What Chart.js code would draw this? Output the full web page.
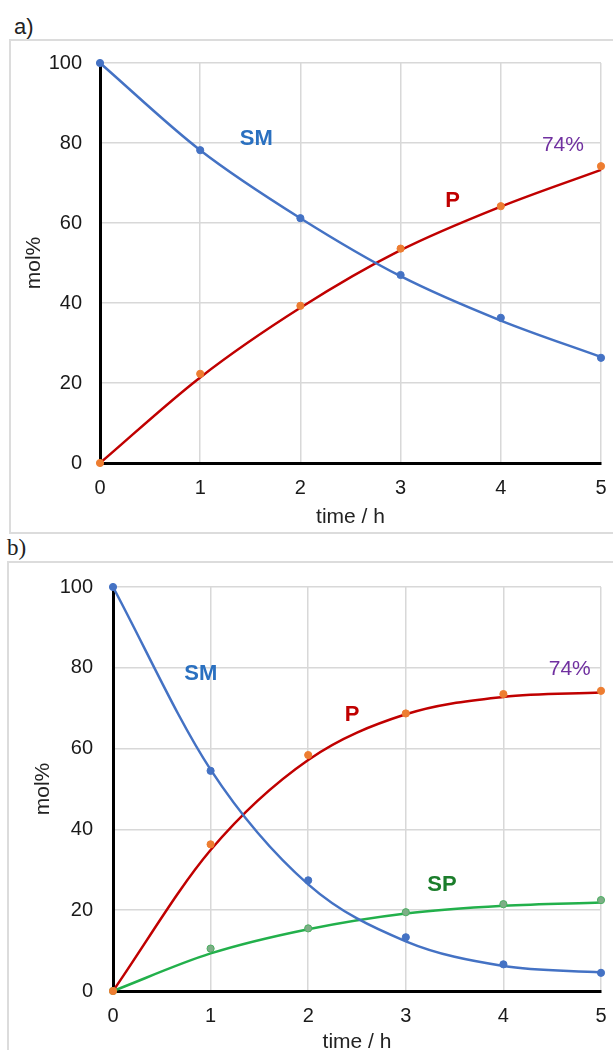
<!DOCTYPE html>
<html><head><meta charset="utf-8">
<script src="https://cdn.jsdelivr.net/npm/chart.js@4"></script>
<style>
html,body{margin:0;padding:0;background:#fff;width:613px;height:1050px;overflow:hidden;position:relative;font-family:"Liberation Sans",Arial,sans-serif;}
.frame{position:absolute;border:2px solid #dcdcdc;box-sizing:border-box;}
#fa{left:9px;top:39px;width:620px;height:495px;}
#fb{left:7px;top:561px;width:620px;height:500px;}
.lab{position:absolute;font-size:22px;line-height:22px;color:#222;}
#la{left:14px;top:16px;font-family:"Liberation Sans",Arial,sans-serif;}
#lb{left:7px;top:537px;font-size:23px;font-family:"Liberation Serif","Times New Roman",serif;}
canvas{position:absolute;}
#ca{left:10px;top:40px;}
#cb{left:8px;top:563px;}
</style>
</head><body>
<div class="frame" id="fa"></div>
<div class="frame" id="fb"></div>
<div class="lab" id="la">a)</div>
<div class="lab" id="lb">b)</div>
<canvas id="ca" width="603" height="490"></canvas>
<canvas id="cb" width="605" height="487"></canvas>
<script>
const times = [0, 1, 2, 3, 4, 5];
const xTicks = [0, 1, 2, 3, 4, 5];
const yTicks = [0, 20, 40, 60, 80, 100];
// chart a
const smPtsA = [100, 78.2, 61.2, 47.0, 36.3, 26.3];
const smFitA = [100, 78.2, 61.2, 46.7, 35.6, 26.5];
const pPtsA  = [0, 22.3, 39.3, 53.6, 64.2, 74.2];
const pFitA  = [0, 21.4, 38.8, 53.2, 64.1, 73.3];
// chart b
const smPtsB = [100, 54.5, 27.4, 13.3, 6.6, 4.5];
const smFitB = [100, 54.8, 26.4, 12.3, 6.2, 4.6];
const pPtsB  = [0, 36.3, 58.4, 68.7, 73.5, 74.3];
const pFitB  = [0, 34.9, 57.2, 68.5, 72.8, 73.9];
const spPtsB = [0, 10.5, 15.5, 19.5, 21.5, 22.5];
const spFitB = [0, 9.3, 15.3, 19.2, 21.1, 21.9];

const xTitle = 'time / h';
const yTitle = 'mol%';

const FAM = '"Liberation Sans", Arial, sans-serif';
const COL = {sm:'#4472c4', pLine:'#c00000', pDot:'#ed7d31', spLine:'#22b04b', spDot:'#7dae86',
             smLab:'#2a70c0', pLab:'#c00000', pct:'#7030a0', spLab:'#1b7d2b'};

function pts(arr){ return times.map((t,i)=>({x:t, y:arr[i]})); }
function dots(arr, fill, border){
  return {data:pts(arr), showLine:false, pointRadius:3.6, pointBackgroundColor:fill,
          pointBorderColor:border||fill, pointBorderWidth:1, order:0, clip:false};
}
function fit(arr, color){
  return {data:pts(arr), showLine:true, borderColor:color, borderWidth:2.5, pointRadius:0,
          cubicInterpolationMode:'monotone', fill:false, order:1, clip:false};
}

function makeChart(id, datasets, ann, g){
  const annPlugin = {
    id:'ann_'+id,
    afterDraw(chart){
      const ctx = chart.ctx, xs = chart.scales.x, ys = chart.scales.y, ca = chart.chartArea;
      ctx.save();
      ctx.textAlign='center'; ctx.textBaseline='middle';
      ann.forEach(a=>{
        ctx.fillStyle=a.color;
        ctx.font=(a.bold?'bold ':'')+a.size+'px '+FAM;
        ctx.fillText(a.text, xs.getPixelForValue(a.t), ys.getPixelForValue(a.v));
      });
      ctx.fillStyle='#222';
      ctx.font='21px '+FAM;
      ctx.fillText(xTitle, (ca.left+ca.right)/2, ca.bottom+g.xt);
      ctx.translate(ca.left-g.yt, (ca.top+ca.bottom)/2);
      ctx.rotate(-Math.PI/2);
      ctx.fillText(yTitle, 0, 0);
      ctx.restore();
    }
  };
  return new Chart(document.getElementById(id), {
    type:'line',
    data:{datasets},
    options:{
      responsive:false, animation:false, events:[],
      layout:{autoPadding:false, padding:{top:g.top, right:g.right, left:0, bottom:0}},
      plugins:{legend:{display:false}, tooltip:{enabled:false}},
      scales:{
        x:{type:'linear', min:0, max:5,
           afterFit:s=>{s.height=g.xh; s.paddingLeft=0; s.paddingRight=0;},
           afterBuildTicks:s=>{s.ticks=xTicks.map(v=>({value:v}));},
           ticks:{padding:g.xpad, font:{size:20, family:FAM}, color:'#1a1a1a', maxRotation:0},
           grid:{color:'#d8d8d8', lineWidth:1.5, drawTicks:false},
           border:{color:'#000', width:3}},
        y:{type:'linear', min:0, max:100,
           afterFit:s=>{s.width=g.yw; s.paddingTop=0; s.paddingBottom=0;},
           afterBuildTicks:s=>{s.ticks=yTicks.map(v=>({value:v}));},
           ticks:{padding:g.ypad, font:{size:20, family:FAM}, color:'#1a1a1a'},
           grid:{color:'#d8d8d8', lineWidth:1.5, drawTicks:false},
           border:{color:'#000', width:3}}
      }
    },
    plugins:[annPlugin]
  });
}

makeChart('ca', [
  dots(smPtsA, COL.sm), dots(pPtsA, COL.pDot),
  fit(smFitA, COL.sm), fit(pFitA, COL.pLine)
], [
  {text:'SM', t:1.56, v:80.9, color:COL.smLab, bold:true, size:22},
  {text:'P', t:3.52, v:65.5, color:COL.pLab, bold:true, size:22},
  {text:'74%', t:4.62, v:79.4, color:COL.pct, bold:false, size:21}
], {top:23, right:12, xh:67, yw:90, xpad:13, ypad:18, xt:54, yt:66});

makeChart('cb', [
  dots(smPtsB, COL.sm), dots(pPtsB, COL.pDot), dots(spPtsB, COL.spDot, '#4caf62'),
  fit(smFitB, COL.sm), fit(pFitB, COL.pLine), fit(spFitB, COL.spLine)
], [
  {text:'SM', t:0.90, v:78.5, color:COL.smLab, bold:true, size:22},
  {text:'P', t:2.45, v:68.4, color:COL.pLab, bold:true, size:22},
  {text:'74%', t:4.68, v:79.75, color:COL.pct, bold:false, size:21},
  {text:'SP', t:3.37, v:26.2, color:COL.spLab, bold:true, size:22}
], {top:24, right:12, xh:59, yw:105, xpad:13, ypad:20, xt:51, yt:70});
</script>
</body></html>
